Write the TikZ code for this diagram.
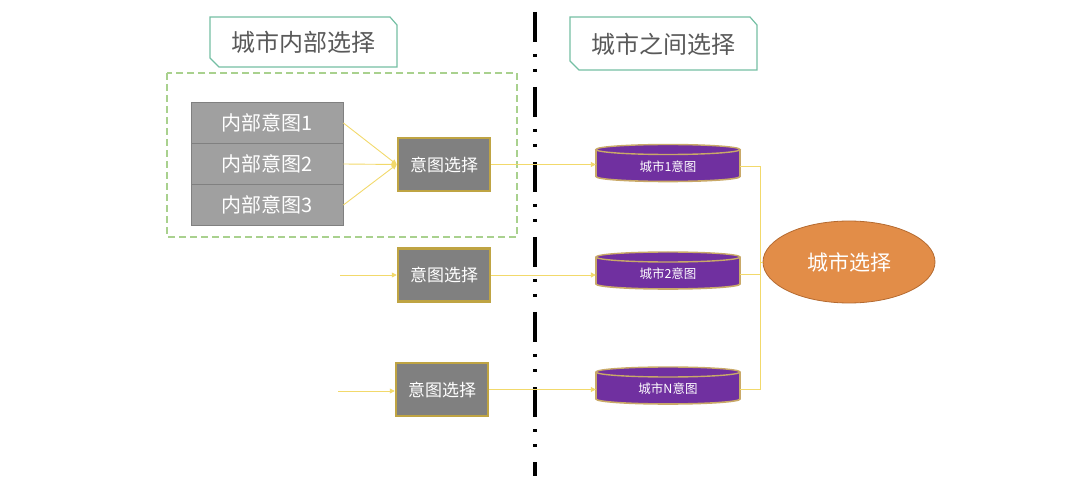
\documentclass[tikz,border=0pt]{standalone}
\usepackage{fontspec}
\setmainfont{Noto Sans CJK SC}
\usetikzlibrary{shapes.geometric,arrows.meta,calc}
\definecolor{titleline}{HTML}{74BFA3}
\definecolor{titletext}{HTML}{595959}
\definecolor{dashgreen}{HTML}{A9D18E}
\definecolor{rowgray}{HTML}{A0A0A0}
\definecolor{rowline}{HTML}{808080}
\definecolor{selgray}{HTML}{808080}
\definecolor{gold}{HTML}{BFA443}
\definecolor{wire}{HTML}{F2D96B}
\definecolor{cylpurple}{HTML}{7030A0}
\definecolor{cylgold}{HTML}{C9A968}
\definecolor{orangefill}{HTML}{E28D48}
\definecolor{orangeline}{HTML}{B46A30}
\tikzset{
  titlebox/.style={draw=titleline, line width=1.2pt},
  titletxt/.style={text=titletext, font=\fontsize{24}{24}\selectfont},
  rowbox/.style={draw=rowline, fill=rowgray, line width=0.8pt, minimum width=152pt, minimum height=41pt, text=white, font=\fontsize{20}{20}\selectfont, inner sep=0pt},
  selbox/.style={draw=gold, fill=selgray, line width=2.5pt, minimum width=92pt, minimum height=53pt, text=white, font=\fontsize{17}{17}\selectfont, inner sep=0pt},
  wireline/.style={draw=wire, line width=0.9pt},
  wirearrow/.style={wireline, -{Triangle[length=5pt,width=5pt]}},
  cyltext/.style={text=white, font=\fontsize{12.5}{12.5}\selectfont, inner sep=0pt, minimum width=144pt, minimum height=37pt},
  cylshape/.style={fill=cylpurple},
}
\begin{document}
\begin{tikzpicture}[x=1pt,y=-1pt]
\useasboundingbox (0,0) rectangle (1080,481);

% title boxes with snipped corners
\draw[titlebox] (210,17) -- (390,17) -- (397,25) -- (397,67) -- (219,67) -- (210,58) -- cycle;
\node[titletxt] (t1) at (303,42) {城市内部选择};
\draw[titlebox] (570,17) -- (750,17) -- (757,25) -- (757,70) -- (579,70) -- (570,61) -- cycle;
\node[titletxt] (t2) at (663,44) {城市之间选择};

% dashed group
\draw[dashgreen, line width=1.6pt, dash pattern=on 7pt off 4pt] (167,73) rectangle (517,237);

% dash-dot divider
\coordinate (d1) at (535,12);
\coordinate (d2) at (535,476);
\draw[black, line width=3.5pt, dash pattern=on 30pt off 12pt on 3pt off 12pt on 3pt off 15pt] (d1) -- (d2);

% internal rows
\node[rowbox] (r1) at (267,123) {内部意图1};
\node[rowbox] (r2) at (267,164) {内部意图2};
\node[rowbox] (r3) at (267,205) {内部意图3};

% selection boxes
\node[selbox] (a1) at (444,164.5) {意图选择};
\node[selbox] (a2) at (444,275) {意图选择};
\node[selbox] (a3) at (442,389.5) {意图选择};

\draw[wirearrow] (r1.east) -- (a1.west);
\draw[wirearrow] (r2.east) -- (a1.west);
\draw[wirearrow] (r3.east) -- (a1.west);

\coordinate (i2) at (340,275);
\coordinate (i3) at (338,391);
\draw[wirearrow] (i2) -- (a2.west);
\draw[wirearrow] (i3) -- (a3.west|-i3);

% cylinders
\foreach \n/\yc/\lab in {c1/163.5/城市1意图, c2/271/城市2意图, c3/386/城市N意图}{
  \fill[cylshape] (596,\yc-14) -- (596,\yc+13) arc[start angle=180, end angle=0, x radius=72, y radius=5] -- (740,\yc-14) arc[start angle=360, end angle=180, x radius=72, y radius=5] -- cycle;
  \draw[cylgold, line width=1.6pt] (596,\yc-14) -- (596,\yc+13) arc[start angle=180, end angle=0, x radius=72, y radius=5] -- (740,\yc-14);
  \draw[cylgold, line width=1.4pt] (668,\yc-14) ellipse[x radius=72, y radius=5];
  \node[cyltext] (\n) at (668,\yc+3) {\lab};
}

\draw[wirearrow] (a1.east) -- (c1.west|-a1.east);
\draw[wirearrow] (a2.east) -- (c2.west|-a2.east);
\draw[wirearrow] (a3.east) -- (c3.west|-a3.east);

% city selection ellipse
\node[ellipse, fill=orangefill, draw=orangeline, line width=0.8pt, minimum width=172pt, minimum height=82pt, text=white, font=\fontsize{21}{21}\selectfont] (e) at (849,262) {城市选择};

\coordinate (j) at (760,262);
\draw[wireline] (c1.east) -- (c1.east-|j) -- (c3.east-|j) -- (c3.east);
\draw[wireline] (c2.east) -- (c2.east-|j);
\draw[wireline] (j) -- (e.west);
\end{tikzpicture}
\end{document}
